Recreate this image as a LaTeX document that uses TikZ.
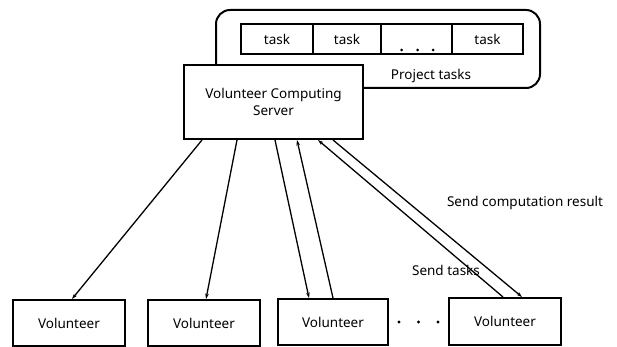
\documentclass[tikz,border=0pt]{standalone}
\usepackage{fontspec}
\setmainfont{Noto Sans}
\usetikzlibrary{arrows.meta}
\begin{document}
\begin{tikzpicture}[x=1pt,y=-1pt,
  every node/.style={font=\fontsize{13.5}{16}\selectfont, inner sep=0pt},
  box/.style={draw, line width=2pt, fill=white},
  cell/.style={draw, line width=1.6pt, minimum height=30pt},
  vol/.style={box, minimum width=112pt, minimum height=46pt},
  link/.style={line width=1.3pt, -{Stealth[length=5.5pt,width=3.6pt]}},
  dot/.style={circle, fill=black, minimum size=3.2pt}]
\useasboundingbox (0,0) rectangle (617,347);

% task pool
\node[draw, line width=2pt, rounded corners=14pt, minimum width=324pt, minimum height=78pt] (pool) at (378,49) {};
\node[cell, minimum width=72pt] (t1) at (277,39) {task};
\node[cell, minimum width=68pt] (t2) at (347,39) {task};
\node[cell, minimum width=71pt] (t3) at (416.5,39) {};
\node[cell, minimum width=71pt] (t4) at (487.5,39) {task};
\node[dot, minimum size=3pt] (d1) at (401.5,50) {};
\node[dot, minimum size=3pt] (d2) at (417.5,50) {};
\node[dot, minimum size=3pt] (d3) at (433,50) {};
\node (ptl) at (431,76) {Project tasks};

% server
\node[box, minimum width=179pt, minimum height=74pt, align=center] (srv) at (273.5,102)
  {Volunteer Computing\\[1pt]Server};

% volunteers
\node[vol] (v1) at (69,323) {Volunteer};
\node[vol] (v2) at (204,323) {Volunteer};
\node[vol, minimum width=110pt, minimum height=46pt] (v3) at (333,322) {Volunteer};
\node[vol, minimum height=47pt] (v4) at (505,321.5) {Volunteer};
\node[dot] (e1) at (399,322) {};
\node[dot] (e2) at (418.5,322) {};
\node[dot] (e3) at (438,322) {};

% task distribution and results
\draw[link] (202,0 |- srv.south) -- (72,0 |- v1.north);
\draw[link] (237,0 |- srv.south) -- (206,0 |- v2.north);
\draw[link] (275,0 |- srv.south) -- (309,0 |- v3.north);
\draw[link] (333,0 |- v3.north) -- (297,0 |- srv.south);
\draw[link] (503,0 |- v4.north) -- (318,0 |- srv.south);
\draw[link] (333,0 |- srv.south) -- (522,0 |- v4.north);

\node (res) at (525,203) {Send computation result};
\node (snd) at (446,270) {Send tasks};
\end{tikzpicture}
\end{document}
